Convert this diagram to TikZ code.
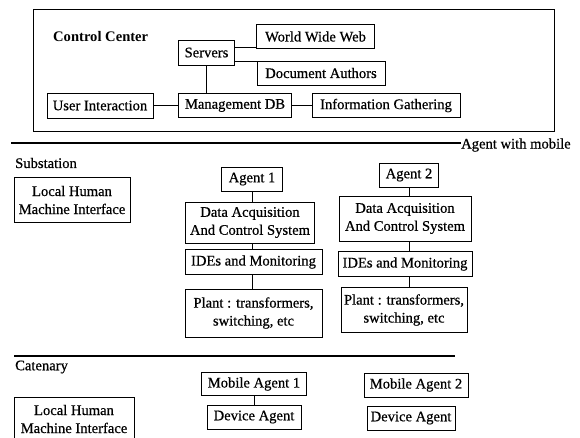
\documentclass[tikz,border=0pt]{standalone}
\usepackage{fontspec}
\setmainfont{Liberation Serif}
\newfontfamily\scanfont{Liberation Serif}[FakeBold=0.6]
\begin{document}
\begin{tikzpicture}[x=1pt,y=-1pt,
  bx/.style={draw, line width=1pt, inner sep=0pt, align=center, font=\scanfont\fontsize{14.6}{18}\selectfont},
  lbl/.style={inner sep=0pt, font=\scanfont\fontsize{14.6}{18}\selectfont},
  sepline/.style={line width=2pt},
  conn/.style={line width=1pt}]
\useasboundingbox (0,0) rectangle (580,437);
\clip (0,0) rectangle (580,437);
% Control center frame
\node[draw, line width=1pt, inner sep=0pt, minimum width=521, minimum height=122] (frame) at (293.5,70) {};
\node[lbl, anchor=west, font=\fontsize{14.6}{18}\selectfont\bfseries] (cct) at (53,37) {Control Center};
\node[bx, minimum width=56, minimum height=25] (srv) at (206.5,52.5) {Servers};
\node[bx, minimum width=118, minimum height=24] (www) at (315.5,36.5) {World Wide Web};
\node[bx, minimum width=128, minimum height=24] (doc) at (321,73) {Document Authors};
\node[bx, minimum width=106, minimum height=25] (ui) at (100,105.5) {User Interaction};
\node[bx, minimum width=113, minimum height=24] (mdb) at (235,105.5) {Management DB};
\node[bx, minimum width=148, minimum height=24] (info) at (386,105.5) {Information Gathering};
\draw[conn] ([yshift=5.5pt]srv.east) -- ([yshift=5.5pt]srv.east -| www.west);
\draw[conn] ([yshift=-9pt]srv.east) -- ([yshift=-9pt]srv.east -| doc.west);
\draw[conn] (srv.south) -- (srv.south |- mdb.north);
\draw[conn] (ui.east) -- (mdb.west);
\draw[conn] (mdb.east) -- (info.west);
% separator 1
\coordinate (s1) at (11,143);
\node[lbl, anchor=base west] (awm) at (461,148.5) {Agent with mobile};
\draw[sepline] (s1) -- (s1 -| awm.west);
% Substation
\node[lbl, anchor=west] (sub) at (15,163) {Substation};
\node[bx, minimum width=116, minimum height=45] (lh1) at (72,200) {Local Human\\Machine Interface};
\node[bx, minimum width=61, minimum height=24] (ag1) at (252,179) {Agent 1};
\node[bx, minimum width=129, minimum height=41] (dac1) at (250,222.5) {Data Acquisition\\And Control System};
\node[bx, minimum width=137, minimum height=25] (ide1) at (253.5,262) {IDEs and Monitoring};
\node[bx, minimum width=137, minimum height=48] (pl1) at (253.5,313) {Plant : transformers,\\switching, etc};
\draw[conn] (ag1.south) -- (ag1.south |- dac1.north);
\draw[conn] (ag1.south |- dac1.south) -- (ag1.south |- ide1.north);
\draw[conn] (ag1.south |- ide1.south) -- (ag1.south |- pl1.north);
\node[bx, minimum width=59, minimum height=24] (ag2) at (409,175) {Agent 2};
\node[bx, minimum width=132, minimum height=45] (dac2) at (405,218.5) {Data Acquisition\\And Control System};
\node[bx, minimum width=134, minimum height=25] (ide2) at (405,264) {IDEs and Monitoring};
\node[bx, minimum width=126, minimum height=45] (pl2) at (404,310) {Plant : transformers,\\switching, etc};
\draw[conn] (ag2.south) -- (ag2.south |- dac2.north);
\draw[conn] (ag2.south |- dac2.south) -- (ag2.south |- ide2.north);
\draw[conn] (ag2.south |- ide2.south) -- (ag2.south |- pl2.north);
% separator 2
\coordinate (s2a) at (14,356);
\coordinate (s2b) at (455,356);
\draw[sepline] (s2a) -- (s2b);
% Catenary
\node[lbl, anchor=west] (cat) at (15,367) {Catenary};
\node[bx, minimum width=105, minimum height=23] (ma1) at (254,384) {Mobile Agent 1};
\node[bx, minimum width=104, minimum height=24] (ma2) at (416,385) {Mobile Agent 2};
\node[bx, minimum width=94, minimum height=24] (da1) at (254,417) {Device Agent};
\node[bx, minimum width=88, minimum height=24] (da2) at (411,418) {Device Agent};
\draw[conn] (ma1.south) -- (da1.north);
\node[bx, minimum width=120, minimum height=44] (lh2) at (74,419) {Local Human\\Machine Interface};
\end{tikzpicture}
\end{document}
